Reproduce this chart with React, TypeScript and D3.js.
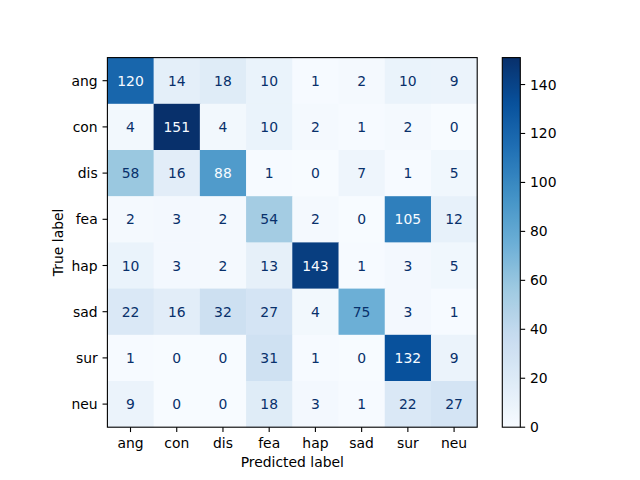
import React from "react";
import * as d3 from "d3";

const labels = ["ang", "con", "dis", "fea", "hap", "sad", "sur", "neu"];
const matrix = [
  [120, 14, 18, 10, 1, 2, 10, 9],
  [4, 151, 4, 10, 2, 1, 2, 0],
  [58, 16, 88, 1, 0, 7, 1, 5],
  [2, 3, 2, 54, 2, 0, 105, 12],
  [10, 3, 2, 13, 143, 1, 3, 5],
  [22, 16, 32, 27, 4, 75, 3, 1],
  [1, 0, 0, 31, 1, 0, 132, 9],
  [9, 0, 0, 18, 3, 1, 22, 27],
];
const colorbarTicks = [0, 20, 40, 60, 80, 100, 120, 140];
const xTitle = "Predicted label";
const yTitle = "True label";

const bluesStops = ["#f7fbff", "#deebf7", "#c6dbef", "#9ecae1", "#6baed6", "#4292c6", "#2171b5", "#08519c", "#08306b"];

export default function App() {
  const W = 640, H = 480;
  const left = 107.4, right = 477.2, top = 57.6, bottom = 427.2;
  const font = "DejaVu Sans, sans-serif";
  const fs = 13.9;
  const tickLen = 4.86;
  const pad = 4.86;

  const all = matrix.flat();
  const vmin = d3.min(all)!;
  const vmax = d3.max(all)!;
  const thresh = (vmin + vmax) / 2;

  const x = d3.scaleBand<string>().domain(labels).range([left, right]).padding(0);
  const y = d3.scaleBand<string>().domain(labels).range([top, bottom]).padding(0);

  const norm = d3.scaleLinear().domain([vmin, vmax]).range([0, 1]);
  const stopScale = d3
    .scaleLinear<string>()
    .domain(bluesStops.map((_, i) => i / (bluesStops.length - 1)))
    .range(bluesStops)
    .interpolate(d3.interpolateRgb);
  const color = (v: number) => stopScale(norm(v));

  const cbLeft = 502.3, cbRight = 520.3;
  const cbY = d3.scaleLinear().domain([vmin, vmax]).range([bottom, top]);
  const gradStops = d3.range(0, 1.0001, 0.02);

  return (
    <svg width={W} height={H} style={{ position: "absolute", left: 0, top: 0 }} fontFamily={font}>
      <rect width={W} height={H} fill="#fff" />
      <defs>
        <linearGradient id="cbgrad" x1="0" y1="1" x2="0" y2="0">
          {gradStops.map((t) => (
            <stop key={t} offset={t} stopColor={stopScale(t)} />
          ))}
        </linearGradient>
      </defs>
      {matrix.map((row, i) =>
        row.map((v, j) => (
          <rect
            key={`c${i}-${j}`}
            x={x(labels[j])!}
            y={y(labels[i])!}
            width={x.bandwidth() + 0.5}
            height={y.bandwidth() + 0.5}
            fill={color(v)}
          />
        ))
      )}
      {matrix.map((row, i) =>
        row.map((v, j) => (
          <text
            key={`t${i}-${j}`}
            x={x(labels[j])! + x.bandwidth() / 2}
            y={y(labels[i])! + y.bandwidth() / 2}
            textAnchor="middle"
            dominantBaseline="central"
            fontSize={fs}
            fill={v < thresh ? bluesStops[8] : bluesStops[0]}
          >
            {v}
          </text>
        ))
      )}
      <rect x={left} y={top} width={right - left} height={bottom - top} fill="none" stroke="#000" strokeWidth={1.1} />
      {labels.map((l) => {
        const cx = x(l)! + x.bandwidth() / 2;
        return (
          <g key={`xt${l}`}>
            <line x1={cx} x2={cx} y1={bottom} y2={bottom + tickLen} stroke="#000" strokeWidth={1.1} />
            <text x={cx} y={bottom + tickLen + pad + 10.6} textAnchor="middle" fontSize={fs} fill="#000">
              {l}
            </text>
          </g>
        );
      })}
      {labels.map((l) => {
        const cy = y(l)! + y.bandwidth() / 2;
        return (
          <g key={`yt${l}`}>
            <line x1={left - tickLen} x2={left} y1={cy} y2={cy} stroke="#000" strokeWidth={1.1} />
            <text x={left - tickLen - pad} y={cy} textAnchor="end" dominantBaseline="central" fontSize={fs} fill="#000">
              {l}
            </text>
          </g>
        );
      })}
      <text x={(left + right) / 2} y={467} textAnchor="middle" fontSize={fs} fill="#000">
        {xTitle}
      </text>
      <text
        transform={`translate(63.3, ${(top + bottom) / 2}) rotate(-90)`}
        textAnchor="middle"
        fontSize={fs}
        fill="#000"
      >
        {yTitle}
      </text>
      <rect x={cbLeft} y={top} width={cbRight - cbLeft} height={bottom - top} fill="url(#cbgrad)" />
      <rect x={cbLeft} y={top} width={cbRight - cbLeft} height={bottom - top} fill="none" stroke="#000" strokeWidth={1.1} />
      {colorbarTicks.map((t) => (
        <g key={`cb${t}`}>
          <line x1={cbRight} x2={cbRight + tickLen} y1={cbY(t)} y2={cbY(t)} stroke="#000" strokeWidth={1.1} />
          <text x={cbRight + tickLen + pad} y={cbY(t)} dominantBaseline="central" fontSize={fs} fill="#000">
            {t}
          </text>
        </g>
      ))}
    </svg>
  );
}
